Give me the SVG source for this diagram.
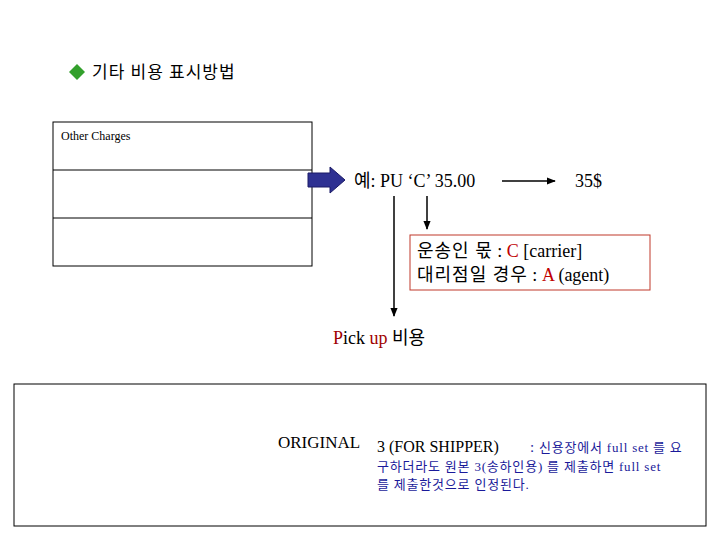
<svg xmlns="http://www.w3.org/2000/svg" width="720" height="540" viewBox="0 0 720 540">
<style>
.k{font-family:"Liberation Serif","Noto Sans CJK KR",serif}
.s{font-family:"Liberation Serif","Noto Sans CJK KR",serif}
.ln{stroke:#000;stroke-width:1.5;fill:none}
</style>
<defs><marker id="a" viewBox="0 0 10 10" refX="9" refY="5" markerWidth="6" markerHeight="6" orient="auto"><path d="M0,1 L10,5 L0,9 z" fill="#000"/></marker></defs>
<rect width="720" height="540" fill="#fff"/>
<g id="title"><path d="M77,64 L85,72 L77,80 L69,72 z" fill="#33a02c"/><text x="92" y="78" class="k" font-size="17" letter-spacing="1">기타 비용 표시방법</text></g>
<g id="table"><rect x="53" y="122" width="259" height="144" fill="#fff" stroke="#000"/><line x1="53" y1="170" x2="312" y2="170" stroke="#000"/><line x1="53" y1="218" x2="312" y2="218" stroke="#000"/><text x="61" y="140" class="s" font-size="12">Other Charges</text></g>
<g id="bluearrow"><path d="M308,173 L330,173 L330,167 L345,180 L330,193 L330,187 L308,187 z" fill="#2e3192" stroke="#1a1a66"/></g>
<g id="example"><text x="354" y="187" class="s" font-size="18">예: PU ‘C’ 35.00</text></g>
<g id="usd"><text x="575" y="187" class="s" font-size="18">35$</text></g>
<g id="carrier"><rect x="410" y="235" width="240" height="55" fill="#fff" stroke="#c0392b"/><text x="417" y="257" class="s" font-size="18"><tspan letter-spacing="1">운송인 몫</tspan> : <tspan fill="#c00000">C</tspan> [carrier]</text><text x="417" y="281" class="s" font-size="18"><tspan letter-spacing="1">대리점일 경우</tspan> : <tspan fill="#c00000">A</tspan> (agent)</text></g>
<g id="pickup"><text x="333" y="344" class="s" font-size="18"><tspan fill="#a00000">P</tspan>ick <tspan fill="#a00000">up</tspan> 비용</text></g>
<g id="connectors">
<line class="ln" x1="502" y1="181" x2="555" y2="181" marker-end="url(#a)"/>
<line class="ln" x1="427" y1="196" x2="427" y2="229" marker-end="url(#a)"/>
<line class="ln" x1="394" y1="196" x2="394" y2="316" marker-end="url(#a)"/>
</g>
<g id="original"><rect x="14" y="384" width="692" height="142" fill="#fff" stroke="#000"/>
<text x="278" y="448" class="s" font-size="17">ORIGINAL</text>
<text x="377" y="452" class="s" font-size="16">3 (FOR SHIPPER)</text>
<text x="530" y="452" font-size="13" fill="#1a1a9a" class="k" letter-spacing="0.8"><tspan font-size="15">:</tspan> 신용장에서 full set 를 요</text>
<text x="377" y="471" font-size="13" fill="#1a1a9a" class="k" letter-spacing="0.8">구하더라도 원본 3(송하인용) 를 제출하면 full set</text>
<text x="377" y="489" font-size="13" fill="#1a1a9a" class="k" letter-spacing="0.8">를 제출한것으로 인정된다.</text>
</g>
</svg>
